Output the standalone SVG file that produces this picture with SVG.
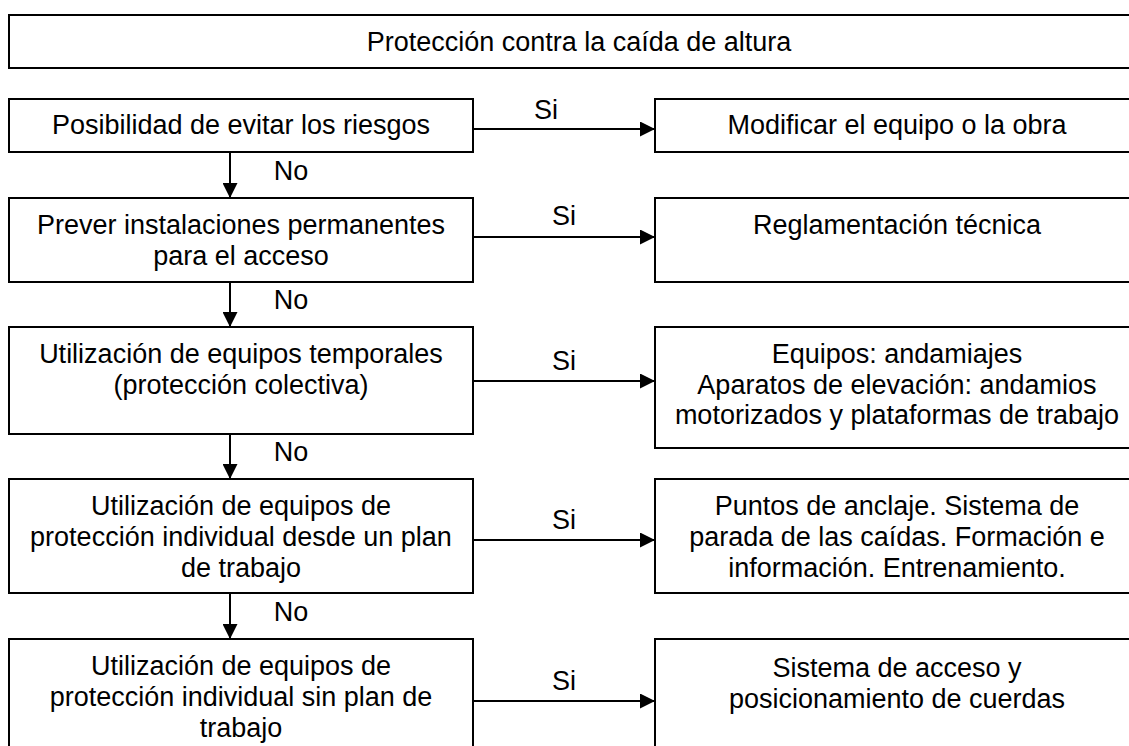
<svg xmlns="http://www.w3.org/2000/svg" width="1129" height="746" viewBox="0 0 1129 746">
<defs>
<marker id="ah" markerUnits="userSpaceOnUse" markerWidth="15" markerHeight="15" refX="15" refY="7.5" orient="auto">
<path d="M0,0 L15,7.5 L0,15 Z" fill="#000"/>
</marker>
<style>
.box{fill:#fff;stroke:#000;stroke-width:2}
.t{font-family:"Liberation Sans",Arial,sans-serif;font-size:27px;fill:#000;text-anchor:middle}
.c{stroke:#000;stroke-width:2;fill:none;marker-end:url(#ah)}
</style>
</defs>
<rect width="1129" height="746" fill="#fff"/>
<g id="title">
<rect class="box" x="9" y="15" width="1140" height="53"/>
<text class="t" x="579" y="51">Protección contra la caída de altura</text>
</g>
<g id="n1">
<rect class="box" x="9" y="99" width="464" height="53"/>
<text class="t" x="241" y="134">Posibilidad de evitar los riesgos</text>
</g>
<g id="r1">
<rect class="box" x="655" y="99" width="490" height="53"/>
<text class="t" x="897" y="134">Modificar el equipo o la obra</text>
</g>
<g id="n2">
<rect class="box" x="9" y="198" width="464" height="84"/>
<text class="t" x="241" y="234">Prever instalaciones permanentes</text>
<text class="t" x="241" y="265">para el acceso</text>
</g>
<g id="r2">
<rect class="box" x="655" y="198" width="490" height="84"/>
<text class="t" x="897" y="234">Reglamentación técnica</text>
</g>
<g id="n3">
<rect class="box" x="9" y="327" width="464" height="107"/>
<text class="t" x="241" y="363">Utilización de equipos temporales</text>
<text class="t" x="241" y="394">(protección colectiva)</text>
</g>
<g id="r3">
<rect class="box" x="655" y="327" width="490" height="121"/>
<text class="t" x="897" y="363">Equipos: andamiajes</text>
<text class="t" x="897" y="393.5">Aparatos de elevación: andamios</text>
<text class="t" x="897" y="424">motorizados y plataformas de trabajo</text>
</g>
<g id="n4">
<rect class="box" x="9" y="479" width="464" height="114"/>
<text class="t" x="241" y="515">Utilización de equipos de</text>
<text class="t" x="241" y="546">protección individual desde un plan</text>
<text class="t" x="241" y="577">de trabajo</text>
</g>
<g id="r4">
<rect class="box" x="655" y="479" width="490" height="114"/>
<text class="t" x="897" y="515">Puntos de anclaje. Sistema de</text>
<text class="t" x="897" y="546">parada de las caídas. Formación e</text>
<text class="t" x="897" y="577">información. Entrenamiento.</text>
</g>
<g id="n5">
<rect class="box" x="9" y="639" width="464" height="130"/>
<text class="t" x="241" y="675">Utilización de equipos de</text>
<text class="t" x="241" y="706">protección individual sin plan de</text>
<text class="t" x="241" y="737">trabajo</text>
</g>
<g id="r5">
<rect class="box" x="655" y="639" width="490" height="130"/>
<text class="t" x="897" y="677">Sistema de acceso y</text>
<text class="t" x="897" y="708">posicionamiento de cuerdas</text>
</g>
<g id="connectors">
<line class="c" x1="473" y1="129" x2="655" y2="129"/>
<line class="c" x1="473" y1="237" x2="655" y2="237"/>
<line class="c" x1="473" y1="381" x2="655" y2="381"/>
<line class="c" x1="473" y1="540" x2="655" y2="540"/>
<line class="c" x1="473" y1="701" x2="655" y2="701"/>
<line class="c" x1="230" y1="152" x2="230" y2="198"/>
<line class="c" x1="230" y1="282" x2="230" y2="327"/>
<line class="c" x1="230" y1="434" x2="230" y2="479"/>
<line class="c" x1="230" y1="593" x2="230" y2="639"/>
<text class="t" x="546" y="119">Si</text>
<text class="t" x="564" y="225">Si</text>
<text class="t" x="564" y="370">Si</text>
<text class="t" x="564" y="529">Si</text>
<text class="t" x="564" y="690">Si</text>
<text class="t" x="291" y="180">No</text>
<text class="t" x="291" y="309">No</text>
<text class="t" x="291" y="461">No</text>
<text class="t" x="291" y="621">No</text>
</g>
</svg>
